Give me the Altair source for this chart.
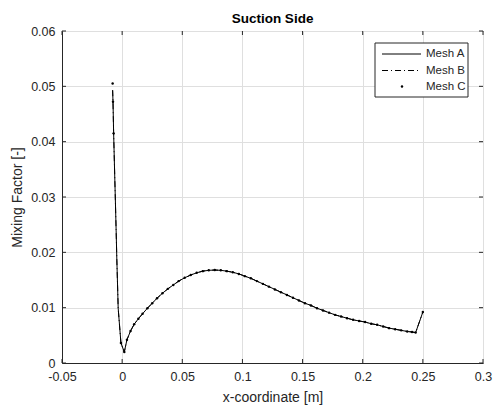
import altair as alt
import pandas as pd

# ---- data ----
x_vals = [-0.0079, -0.0076, -0.0071, -0.0064, -0.0057, -0.0050, -0.0044, -0.0037, -0.0033, -0.0010,
          0.0018, 0.0040, 0.0070, 0.0100, 0.0135, 0.0170, 0.0210, 0.0250, 0.0290, 0.0335,
          0.0380, 0.0425, 0.0470, 0.0520, 0.0570, 0.0620, 0.0670, 0.0720, 0.0770, 0.0820,
          0.0870, 0.0920, 0.0970, 0.1020, 0.1070, 0.1120, 0.1170, 0.1220, 0.1270, 0.1320,
          0.1370, 0.1420, 0.1470, 0.1520, 0.1570, 0.1620, 0.1670, 0.1720, 0.1770, 0.1820,
          0.1870, 0.1920, 0.1970, 0.2020, 0.2070, 0.2120, 0.2170, 0.2220, 0.2270, 0.2320,
          0.2370, 0.2410, 0.2440, 0.2500]
mesh_a = [0.0493, 0.0472, 0.0418, 0.0358, 0.0300, 0.0240, 0.0186, 0.0132, 0.0099, 0.0036,
          0.0020, 0.0042, 0.0058, 0.0070, 0.0080, 0.0089, 0.0099, 0.0108, 0.0117, 0.0126,
          0.0134, 0.0141, 0.0148, 0.0154, 0.0159, 0.0163, 0.0166, 0.01675, 0.0168, 0.01675,
          0.0166, 0.0164, 0.0161, 0.0157, 0.0153, 0.0148, 0.0143, 0.0138, 0.0133, 0.0128,
          0.0123, 0.0118, 0.0113, 0.0108, 0.0104, 0.0099, 0.0095, 0.0091, 0.0087, 0.0084,
          0.0081, 0.0078, 0.0076, 0.0074, 0.0071, 0.0069, 0.0066, 0.0063, 0.0061, 0.0059,
          0.0057, 0.0056, 0.0055, 0.0092]
mesh_b = list(mesh_a)
# Mesh C: points only; the steep leading-edge part has fewer samples
x_c = [-0.0079, -0.0076, -0.0071, -0.0010] + x_vals[10:]
mesh_c = [0.0505, 0.0472, 0.0415, 0.0036] + mesh_a[10:]

x_ticks = [-0.05, 0, 0.05, 0.1, 0.15, 0.2, 0.25, 0.3]
y_ticks = [0, 0.01, 0.02, 0.03, 0.04, 0.05, 0.06]
series_names = ["Mesh A", "Mesh B", "Mesh C"]

W, H = 421, 332
FONT = "Liberation Sans"
TXT = "#262626"

df = pd.DataFrame({
    "x": x_vals * 2 + x_c,
    "y": mesh_a + mesh_b + mesh_c,
    "series": [series_names[0]] * len(x_vals) + [series_names[1]] * len(x_vals) + [series_names[2]] * len(x_c),
})

label_expr = "replace(format(datum.value, '~g'), '\u2212', '-')"

x_enc = alt.X("x:Q", scale=alt.Scale(domain=[-0.05, 0.3], nice=False, zero=False, padding=0),
              axis=alt.Axis(values=x_ticks, title="x-coordinate [m]", labelExpr=label_expr,
                            ticks=False, labelPadding=7, titlePadding=8, labelFlush=False))
y_enc = alt.Y("y:Q", scale=alt.Scale(domain=[0, 0.06], nice=False, padding=0),
              axis=alt.Axis(values=y_ticks, title="Mixing Factor [-]", labelExpr=label_expr,
                            ticks=False, labelPadding=7, titlePadding=6, labelFlush=False))

base = alt.Chart(df)
line_a = base.transform_filter(alt.datum.series == "Mesh A").mark_line(
    color="black", strokeWidth=1).encode(x=x_enc, y=y_enc)
line_b = base.transform_filter(alt.datum.series == "Mesh B").mark_line(
    color="black", strokeWidth=1, strokeDash=[6, 3, 1, 3]).encode(x="x:Q", y="y:Q")
pts_c = base.transform_filter(alt.datum.series == "Mesh C").mark_circle(
    color="black", size=6, opacity=1).encode(x="x:Q", y="y:Q")

# inward ticks (MATLAB style)
xt = alt.Chart(pd.DataFrame({"t": x_ticks}))
yt = alt.Chart(pd.DataFrame({"t": y_ticks}))
tk = dict(color=TXT, strokeWidth=1)
xt_bot = xt.mark_rule(**tk).encode(x="t:Q", y=alt.value(H), y2=alt.value(H - 4))
xt_top = xt.mark_rule(**tk).encode(x="t:Q", y=alt.value(0), y2=alt.value(4))
yt_left = yt.mark_rule(**tk).encode(y="t:Q", x=alt.value(0), x2=alt.value(4))
yt_right = yt.mark_rule(**tk).encode(y="t:Q", x=alt.value(W - 4), x2=alt.value(W))

# legend
one = alt.Chart(pd.DataFrame({"k": [0]}))
lx0, lx1, ly0, ly1 = 313, 406, 12, 66
rows = [23, 39.5, 55.5]
leg_box = one.mark_rect(fill="white", stroke=TXT, strokeWidth=1).encode(
    x=alt.value(lx0), x2=alt.value(lx1), y=alt.value(ly0), y2=alt.value(ly1))
leg_a = one.mark_rule(color="black", strokeWidth=1).encode(
    x=alt.value(320), x2=alt.value(359), y=alt.value(rows[0]))
leg_b = one.mark_rule(color="black", strokeWidth=1, strokeDash=[6, 3, 1, 3]).encode(
    x=alt.value(320), x2=alt.value(359), y=alt.value(rows[1]))
leg_c = one.mark_circle(color="black", size=6, opacity=1).encode(
    x=alt.value(340), y=alt.value(rows[2]))
leg_texts = [
    one.mark_text(align="left", baseline="middle", font=FONT, fontSize=11.5, color=TXT).encode(
        x=alt.value(364), y=alt.value(rows[i]), text=alt.value(series_names[i]))
    for i in range(3)
]

chart = alt.layer(
    line_a, line_b, pts_c, xt_bot, xt_top, yt_left, yt_right,
    leg_box, leg_a, leg_b, leg_c, *leg_texts
).properties(
    width=W, height=H,
    title=alt.TitleParams("Suction Side", font=FONT, fontSize=13.5, fontWeight="bold",
                          color="black", offset=0),
    autosize=alt.AutoSizeParams(type="none"),
    padding={"left": 62, "top": 31, "right": 10, "bottom": 46},
).configure_view(
    stroke=TXT, strokeWidth=1
).configure_scale(
    continuousPadding=0
).configure_axis(
    labelFont=FONT, titleFont=FONT, labelFontSize=12.5, titleFontSize=14,
    labelColor=TXT, titleColor=TXT, titleFontWeight="normal",
    grid=True, gridColor="#dfdfdf", gridWidth=1,
    domainColor=TXT, domainWidth=1,
)

chart.save("out.html", embed_options={"renderer": "svg", "actions": False})
